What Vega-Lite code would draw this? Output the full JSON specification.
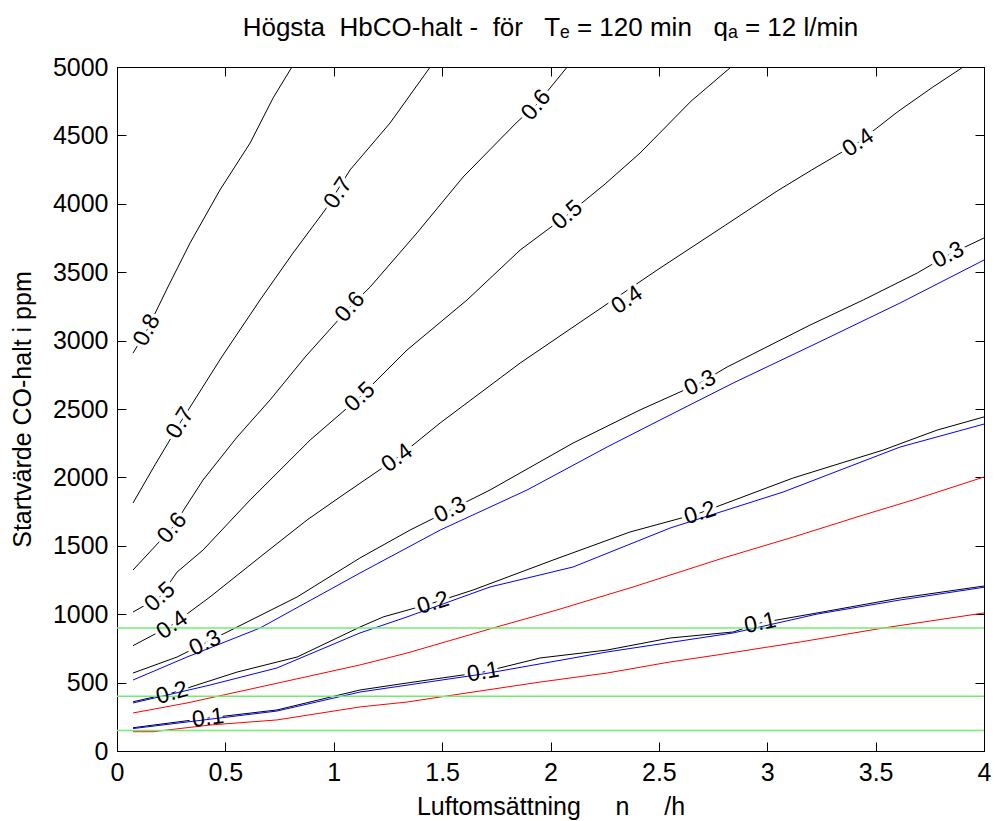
{
  "$schema": "https://vega.github.io/schema/vega-lite/v6.json",
  "width": 867,
  "height": 684,
  "autosize": {"type": "none"},
  "padding": {"left": 117, "top": 67, "right": 11, "bottom": 70},
  "background": "white",
  "title": {
    "text": "Högsta\u00a0 HbCO-halt -\u00a0 för\u00a0\u00a0 Tₑ = 120 min\u00a0\u00a0 qₐ = 12 l/min",
    "font": "Liberation Sans",
    "fontSize": 26,
    "fontWeight": "normal",
    "color": "black",
    "anchor": "middle",
    "offset": 14
  },
  "datasets": {
    "curves": [
      {"c":"c8","k":"black","x":0.074,"y":2909},{"c":"c8","k":"black","x":0.138,"y":3077},{"c":"c8","k":"black","x":0.235,"y":3392},{"c":"c8","k":"black","x":0.337,"y":3713},{"c":"c8","k":"black","x":0.475,"y":4101},{"c":"c8","k":"black","x":0.614,"y":4444},{"c":"c8","k":"black","x":0.72,"y":4773},{"c":"c8","k":"black","x":0.807,"y":5000},
      {"c":"c7","k":"black","x":0.074,"y":1813},{"c":"c7","k":"black","x":0.175,"y":2091},{"c":"c7","k":"black","x":0.291,"y":2398},{"c":"c7","k":"black","x":0.483,"y":2880},{"c":"c7","k":"black","x":0.66,"y":3297},{"c":"c7","k":"black","x":0.812,"y":3640},{"c":"c7","k":"black","x":0.96,"y":3955},{"c":"c7","k":"black","x":1.075,"y":4247},{"c":"c7","k":"black","x":1.26,"y":4591},{"c":"c7","k":"black","x":1.445,"y":5000},
      {"c":"c6","k":"black","x":0.074,"y":1323},{"c":"c6","k":"black","x":0.254,"y":1630},{"c":"c6","k":"black","x":0.397,"y":1981},{"c":"c6","k":"black","x":0.554,"y":2295},{"c":"c6","k":"black","x":0.706,"y":2566},{"c":"c6","k":"black","x":0.868,"y":2880},{"c":"c6","k":"black","x":1.075,"y":3246},{"c":"c6","k":"black","x":1.168,"y":3392},{"c":"c6","k":"black","x":1.384,"y":3787},{"c":"c6","k":"black","x":1.597,"y":4196},{"c":"c6","k":"black","x":1.846,"y":4598},{"c":"c6","k":"black","x":1.934,"y":4722},{"c":"c6","k":"black","x":2.077,"y":5000},
      {"c":"c5","k":"black","x":0.074,"y":1016},{"c":"c5","k":"black","x":0.198,"y":1126},{"c":"c5","k":"black","x":0.277,"y":1308},{"c":"c5","k":"black","x":0.397,"y":1469},{"c":"c5","k":"black","x":0.614,"y":1835},{"c":"c5","k":"black","x":0.891,"y":2273},{"c":"c5","k":"black","x":1.121,"y":2588},{"c":"c5","k":"black","x":1.338,"y":2931},{"c":"c5","k":"black","x":1.615,"y":3297},{"c":"c5","k":"black","x":1.86,"y":3662},{"c":"c5","k":"black","x":2.077,"y":3918},{"c":"c5","k":"black","x":2.252,"y":4145},{"c":"c5","k":"black","x":2.413,"y":4371},{"c":"c5","k":"black","x":2.649,"y":4751},{"c":"c5","k":"black","x":2.833,"y":5000},
      {"c":"c4","k":"black","x":0.074,"y":770},{"c":"c4","k":"black","x":0.254,"y":921},{"c":"c4","k":"black","x":0.429,"y":1126},{"c":"c4","k":"black","x":0.66,"y":1418},{"c":"c4","k":"black","x":0.877,"y":1689},{"c":"c4","k":"black","x":1.029,"y":1857},{"c":"c4","k":"black","x":1.292,"y":2142},{"c":"c4","k":"black","x":1.491,"y":2398},{"c":"c4","k":"black","x":1.86,"y":2836},{"c":"c4","k":"black","x":2.104,"y":3099},{"c":"c4","k":"black","x":2.492,"y":3516},{"c":"c4","k":"black","x":2.808,"y":3845},{"c":"c4","k":"black","x":3.046,"y":4094},{"c":"c4","k":"black","x":3.205,"y":4247},{"c":"c4","k":"black","x":3.419,"y":4447},{"c":"c4","k":"black","x":3.602,"y":4673},{"c":"c4","k":"black","x":3.761,"y":4850},{"c":"c4","k":"black","x":3.904,"y":5000},
      {"c":"c3","k":"black","x":0.074,"y":570},{"c":"c3","k":"black","x":0.277,"y":687},{"c":"c3","k":"black","x":0.406,"y":789},{"c":"c3","k":"black","x":0.554,"y":906},{"c":"c3","k":"black","x":0.831,"y":1126},{"c":"c3","k":"black","x":1.121,"y":1411},{"c":"c3","k":"black","x":1.352,"y":1615},{"c":"c3","k":"black","x":1.537,"y":1762},{"c":"c3","k":"black","x":1.721,"y":1908},{"c":"c3","k":"black","x":2.104,"y":2251},{"c":"c3","k":"black","x":2.413,"y":2493},{"c":"c3","k":"black","x":2.69,"y":2690},{"c":"c3","k":"black","x":2.815,"y":2807},{"c":"c3","k":"black","x":3.198,"y":3114},{"c":"c3","k":"black","x":3.443,"y":3297},{"c":"c3","k":"black","x":3.692,"y":3494},{"c":"c3","k":"black","x":3.835,"y":3626},{"c":"c3","k":"black","x":4.0,"y":3750},
      {"c":"c2","k":"black","x":0.074,"y":360},{"c":"c2","k":"black","x":0.254,"y":424},{"c":"c2","k":"black","x":0.554,"y":577},{"c":"c2","k":"black","x":0.831,"y":687},{"c":"c2","k":"black","x":1.121,"y":906},{"c":"c2","k":"black","x":1.228,"y":980},{"c":"c2","k":"black","x":1.458,"y":1082},{"c":"c2","k":"black","x":1.643,"y":1177},{"c":"c2","k":"black","x":2.012,"y":1396},{"c":"c2","k":"black","x":2.367,"y":1601},{"c":"c2","k":"black","x":2.69,"y":1740},{"c":"c2","k":"black","x":3.12,"y":1996},{"c":"c2","k":"black","x":3.535,"y":2200},{"c":"c2","k":"black","x":3.784,"y":2346},{"c":"c2","k":"black","x":4.0,"y":2442},
      {"c":"c1","k":"black","x":0.074,"y":170},{"c":"c1","k":"black","x":0.42,"y":241},{"c":"c1","k":"black","x":0.738,"y":300},{"c":"c1","k":"black","x":1.121,"y":446},{"c":"c1","k":"black","x":1.338,"y":497},{"c":"c1","k":"black","x":1.689,"y":577},{"c":"c1","k":"black","x":1.952,"y":680},{"c":"c1","k":"black","x":2.261,"y":738},{"c":"c1","k":"black","x":2.552,"y":826},{"c":"c1","k":"black","x":2.843,"y":870},{"c":"c1","k":"black","x":2.967,"y":936},{"c":"c1","k":"black","x":3.23,"y":1009},{"c":"c1","k":"black","x":3.613,"y":1118},{"c":"c1","k":"black","x":4.0,"y":1206},
      {"c":"b3","k":"blue","x":0.074,"y":519},{"c":"b3","k":"blue","x":0.323,"y":687},{"c":"b3","k":"blue","x":0.66,"y":899},{"c":"b3","k":"blue","x":1.121,"y":1301},{"c":"b3","k":"blue","x":1.491,"y":1615},{"c":"b3","k":"blue","x":1.892,"y":1908},{"c":"b3","k":"blue","x":2.261,"y":2222},{"c":"b3","k":"blue","x":2.46,"y":2383},{"c":"b3","k":"blue","x":2.843,"y":2690},{"c":"b3","k":"blue","x":3.23,"y":2982},{"c":"b3","k":"blue","x":3.613,"y":3275},{"c":"b3","k":"blue","x":4.0,"y":3589},
      {"c":"b2","k":"blue","x":0.074,"y":351},{"c":"b2","k":"blue","x":0.429,"y":482},{"c":"b2","k":"blue","x":0.738,"y":607},{"c":"b2","k":"blue","x":1.121,"y":863},{"c":"b2","k":"blue","x":1.338,"y":980},{"c":"b2","k":"blue","x":1.721,"y":1199},{"c":"b2","k":"blue","x":2.104,"y":1345},{"c":"b2","k":"blue","x":2.552,"y":1630},{"c":"b2","k":"blue","x":3.073,"y":1893},{"c":"b2","k":"blue","x":3.613,"y":2222},{"c":"b2","k":"blue","x":4.0,"y":2390},
      {"c":"b1","k":"blue","x":0.074,"y":164},{"c":"b1","k":"blue","x":0.738,"y":292},{"c":"b1","k":"blue","x":1.121,"y":431},{"c":"b1","k":"blue","x":1.689,"y":563},{"c":"b1","k":"blue","x":2.261,"y":724},{"c":"b1","k":"blue","x":2.843,"y":863},{"c":"b1","k":"blue","x":3.23,"y":1001},{"c":"b1","k":"blue","x":3.613,"y":1104},{"c":"b1","k":"blue","x":4.0,"y":1197},
      {"c":"r1","k":"red","x":0.074,"y":278},{"c":"r1","k":"red","x":0.323,"y":351},{"c":"r1","k":"red","x":0.66,"y":468},{"c":"r1","k":"red","x":1.121,"y":629},{"c":"r1","k":"red","x":1.338,"y":716},{"c":"r1","k":"red","x":1.735,"y":899},{"c":"r1","k":"red","x":2.03,"y":1031},{"c":"r1","k":"red","x":2.381,"y":1199},{"c":"r1","k":"red","x":2.797,"y":1411},{"c":"r1","k":"red","x":3.12,"y":1564},{"c":"r1","k":"red","x":3.443,"y":1725},{"c":"r1","k":"red","x":3.673,"y":1835},{"c":"r1","k":"red","x":4.0,"y":2003},
      {"c":"r2","k":"red","x":0.074,"y":141},{"c":"r2","k":"red","x":0.166,"y":141},{"c":"r2","k":"red","x":0.429,"y":190},{"c":"r2","k":"red","x":0.738,"y":227},{"c":"r2","k":"red","x":1.121,"y":322},{"c":"r2","k":"red","x":1.338,"y":358},{"c":"r2","k":"red","x":1.643,"y":431},{"c":"r2","k":"red","x":1.952,"y":504},{"c":"r2","k":"red","x":2.261,"y":570},{"c":"r2","k":"red","x":2.552,"y":651},{"c":"r2","k":"red","x":2.769,"y":702},{"c":"r2","k":"red","x":3.152,"y":797},{"c":"r2","k":"red","x":3.535,"y":899},{"c":"r2","k":"red","x":4.0,"y":1009}
    ],
    "labels": [
      {"t":"0.8","x":0.138,"y":3077,"a":-62},
      {"t":"0.7","x":0.291,"y":2398,"a":-58},
      {"t":"0.7","x":1.02,"y":4079,"a":-56},
      {"t":"0.6","x":0.254,"y":1630,"a":-50},
      {"t":"0.6","x":1.075,"y":3246,"a":-48},
      {"t":"0.6","x":1.934,"y":4722,"a":-50},
      {"t":"0.5","x":0.198,"y":1126,"a":-42},
      {"t":"0.5","x":1.121,"y":2588,"a":-43},
      {"t":"0.5","x":2.077,"y":3918,"a":-41},
      {"t":"0.4","x":0.254,"y":921,"a":-35},
      {"t":"0.4","x":1.292,"y":2142,"a":-36},
      {"t":"0.4","x":2.353,"y":3297,"a":-34},
      {"t":"0.4","x":3.419,"y":4447,"a":-34},
      {"t":"0.3","x":0.406,"y":789,"a":-26},
      {"t":"0.3","x":1.537,"y":1762,"a":-26},
      {"t":"0.3","x":2.69,"y":2690,"a":-26},
      {"t":"0.3","x":3.835,"y":3626,"a":-27},
      {"t":"0.2","x":0.254,"y":424,"a":-16},
      {"t":"0.2","x":1.458,"y":1082,"a":-17},
      {"t":"0.2","x":2.69,"y":1740,"a":-18},
      {"t":"0.1","x":0.42,"y":241,"a":-7},
      {"t":"0.1","x":1.689,"y":577,"a":-10},
      {"t":"0.1","x":2.967,"y":936,"a":-12}
    ],
    "limits": [{"ppm": 900}, {"ppm": 400}, {"ppm": 150}]
  },
  "resolve": {"axis": {"x": "independent", "y": "independent"}},
  "layer": [
    {
      "data": {"name": "curves"},
      "transform": [{"filter": "datum.k === 'black'"}],
      "mark": {"type": "line", "color": "black", "strokeWidth": 1},
      "encoding": {
        "x": {"field": "x", "type": "quantitative", "scale": {"domain": [0, 4], "nice": false},
              "axis": {"orient": "bottom", "values": [0,0.5,1,1.5,2,2.5,3,3.5,4], "format": ".1~f", "title": "Luftomsättning\u00a0\u00a0\u00a0\u00a0 n\u00a0\u00a0\u00a0\u00a0 /h", "titlePadding": 9}},
        "y": {"field": "y", "type": "quantitative", "scale": {"domain": [0, 5000], "nice": false},
              "axis": {"orient": "left", "values": [0,500,1000,1500,2000,2500,3000,3500,4000,4500,5000], "format": "d", "title": "Startvärde CO-halt i ppm", "titlePadding": 17}},
        "detail": {"field": "c"}
      }
    },
    {
      "data": {"name": "labels"},
      "mark": {"type": "text", "font": "Liberation Sans", "fontSize": 23, "fill": "white", "stroke": "white", "strokeWidth": 7, "align": "center", "baseline": "middle"},
      "encoding": {
        "x": {"field": "x", "type": "quantitative", "scale": {"domain": [0, 4], "nice": false},
              "axis": {"orient": "top", "values": [0,0.5,1,1.5,2,2.5,3,3.5,4], "labels": false, "title": null}},
        "y": {"field": "y", "type": "quantitative", "scale": {"domain": [0, 5000], "nice": false},
              "axis": {"orient": "right", "values": [0,500,1000,1500,2000,2500,3000,3500,4000,4500,5000], "labels": false, "title": null}},
        "text": {"field": "t"},
        "angle": {"field": "a", "type": "quantitative", "scale": null}
      }
    },
    {
      "data": {"name": "curves"},
      "transform": [{"filter": "datum.k !== 'black'"}],
      "mark": {"type": "line", "strokeWidth": 1},
      "encoding": {
        "x": {"field": "x", "type": "quantitative", "axis": null},
        "y": {"field": "y", "type": "quantitative", "axis": null},
        "color": {"field": "k", "type": "nominal", "scale": {"domain": ["blue", "red"], "range": ["#0000ff", "#ff0000"]}, "legend": null},
        "detail": {"field": "c"}
      }
    },
    {
      "data": {"name": "limits"},
      "mark": {"type": "rule", "color": "#70ee70", "strokeWidth": 1.5},
      "encoding": {
        "y": {"field": "ppm", "type": "quantitative", "axis": null}
      }
    },
    {
      "data": {"name": "labels"},
      "mark": {"type": "text", "font": "Liberation Sans", "fontSize": 23, "color": "black", "align": "center", "baseline": "middle"},
      "encoding": {
        "x": {"field": "x", "type": "quantitative", "axis": null},
        "y": {"field": "y", "type": "quantitative", "axis": null},
        "text": {"field": "t"},
        "angle": {"field": "a", "type": "quantitative", "scale": null}
      }
    }
  ],
  "config": {
    "view": {"stroke": "black", "strokeWidth": 1},
    "axis": {
      "grid": false,
      "domainColor": "black",
      "tickColor": "black",
      "tickSize": -9,
      "labelPadding": 18,
      "labelFont": "Liberation Sans",
      "labelFontSize": 25,
      "labelColor": "black",
      "titleFont": "Liberation Sans",
      "titleFontSize": 25,
      "titleFontWeight": "normal",
      "titleColor": "black",
      "labelFlush": false,
      "labelOverlap": false
    }
  }
}
